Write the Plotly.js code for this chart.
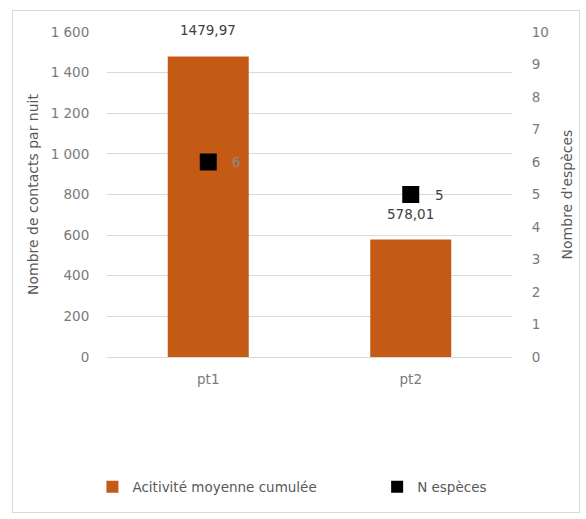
<!DOCTYPE html>
<html><head><meta charset="utf-8">
<script src="https://cdn.plot.ly/plotly-3.0.1.min.js"></script>
<style>
html,body{margin:0;padding:0;background:#fff;}
#wrap{position:absolute;left:12px;top:10px;width:568px;height:503px;border:1px solid #d9d9d9;box-sizing:border-box;}
#chart{position:absolute;left:0;top:0;width:586px;height:519px;}
</style>
</head><body>
<div id="wrap"></div>
<div id="chart"></div>
<script>
var categories = ["pt1", "pt2"];
var activite = [1479.97, 578.01];
var nEspeces = [6, 5];
var leftTicks = [0, 200, 400, 600, 800, 1000, 1200, 1400, 1600];
var rightTicks = [0, 1, 2, 3, 4, 5, 6, 7, 8, 9, 10];

var fontFam = "DejaVu Sans, sans-serif";
var gray = "#7a7a7a";
var tf = {family: fontFam, size: 13.5, color: gray};

function fmt(v){ return v.toFixed(2).replace(".", ","); }

var traces = [
  {
    type: "bar", x: categories, y: activite, name: "Acitivité moyenne cumulée",
    marker: {color: "#C55A15"}, width: 0.4, legend: "legend",
    hoverinfo: "skip"
  },
  {
    type: "scatter", mode: "markers", x: categories, y: nEspeces, yaxis: "y2",
    name: "N espèces", legend: "legend2",
    marker: {symbol: "square", size: 17, color: "#000"},
    hoverinfo: "skip"
  }
];

var annotations = [];
categories.forEach(function(c, i){
  annotations.push({x: c, y: activite[i], xref: "x", yref: "y", text: fmt(activite[i]),
    showarrow: false, yanchor: "bottom", yshift: 16, font: {family: fontFam, size: 13.5, color: "#404040"}});
  annotations.push({x: c, y: nEspeces[i], xref: "x", yref: "y2", text: String(nEspeces[i]),
    showarrow: false, xanchor: "left", xshift: 22, font: {family: fontFam, size: 13.5, color: i === 0 ? "#8a8a8a" : "#404040"}});
});

var layout = {
  width: 586, height: 519,
  margin: {l: 107, r: 74, t: 32, b: 162},
  paper_bgcolor: "rgba(0,0,0,0)", plot_bgcolor: "rgba(0,0,0,0)",
  separators: ", ",
  font: tf,
  showlegend: true,
  legend: {x: -0.036, xanchor: "left", y: -0.40, yanchor: "middle", itemwidth: 30,
           font: {family: fontFam, size: 13.5, color: "#595959"}, itemsizing: "constant"},
  legend2: {x: 0.667, xanchor: "left", y: -0.40, yanchor: "middle", itemwidth: 30,
           font: {family: fontFam, size: 13.5, color: "#595959"}, itemsizing: "constant"},
  annotations: annotations,
  xaxis: {type: "category", showgrid: false, showline: false, ticks: "outside", ticklen: 10,
          tickcolor: "rgba(0,0,0,0)", tickfont: tf},
  yaxis: {range: [0, 1600], tickvals: leftTicks, tickformat: ",d", showline: false,
          gridcolor: "#D9D9D9", gridwidth: 1, zeroline: true, zerolinecolor: "#D9D9D9",
          ticks: "outside", ticklen: 14, tickcolor: "rgba(0,0,0,0)",
          title: {text: "Nombre de contacts par nuit", standoff: 8, font: {family: fontFam, size: 14, color: "#595959"}},
          tickfont: tf},
  yaxis2: {range: [0, 10], tickvals: rightTicks, overlaying: "y", side: "right",
           showgrid: false, zeroline: false, showline: false,
           ticks: "outside", ticklen: 16, tickcolor: "rgba(0,0,0,0)",
           title: {text: "Nombre d'espèces", standoff: 14, font: {family: fontFam, size: 14, color: "#595959"}},
           tickfont: tf}
};

Plotly.newPlot("chart", traces, layout, {displayModeBar: false, staticPlot: true});
</script>
</body></html>
